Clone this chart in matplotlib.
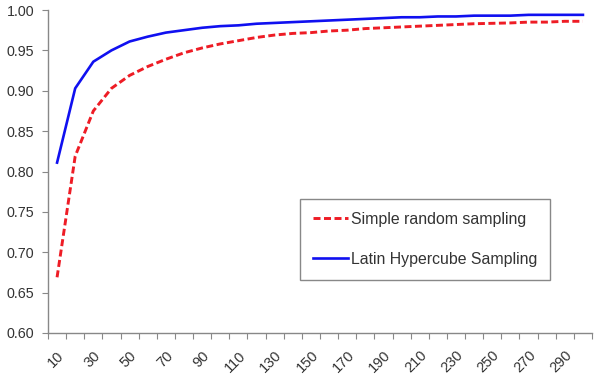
import numpy as np
import matplotlib
matplotlib.use('Agg')
import matplotlib.pyplot as plt

plt.rcParams['font.family'] = ['Liberation Sans', 'DejaVu Sans']

# 样本数量（类别轴）
sample_sizes = list(range(10, 301, 10))
# 两种抽样方法的结果
srs_values = [0.669, 0.819, 0.875, 0.903, 0.919, 0.930, 0.939, 0.947, 0.953, 0.958,
              0.962, 0.966, 0.969, 0.971, 0.972, 0.974, 0.975, 0.977, 0.978, 0.979,
              0.980, 0.981, 0.982, 0.983, 0.9835, 0.984, 0.985, 0.985, 0.986, 0.986]
lhs_values = [0.811, 0.903, 0.936, 0.950, 0.961, 0.967, 0.972, 0.975, 0.978, 0.980,
              0.981, 0.983, 0.984, 0.985, 0.986, 0.987, 0.988, 0.989, 0.990, 0.991,
              0.991, 0.992, 0.992, 0.993, 0.993, 0.993, 0.994, 0.994, 0.994, 0.994]
y_ticks = [0.60, 0.65, 0.70, 0.75, 0.80, 0.85, 0.90, 0.95, 1.00]

fig = plt.figure(figsize=(5.94, 3.74), dpi=100)
ax = fig.add_axes([48 / 594, 1 - 333 / 374, 544 / 594, 323 / 374])

pos = np.arange(len(sample_sizes))
ax.plot(pos, srs_values, color='#ee1c25', lw=2.1, dashes=(2.4, 1.2),
        label='Simple random sampling')
ax.plot(pos, lhs_values, color='#1010f0', lw=1.9, label='Latin Hypercube Sampling')

ax.set_xlim(-0.5, len(sample_sizes) - 0.5)
ax.set_ylim(0.60, 1.00)

# 刻度线在类别之间，标签在类别中心，隔一个显示
ax.set_xticks(np.arange(-0.5, len(sample_sizes)), minor=False)
ax.set_xticklabels([])
ax.set_xticks(pos[::2], minor=True)
ax.set_xticklabels([str(s) for s in sample_sizes[::2]], minor=True,
                   rotation=45, ha='right', va='top', rotation_mode='anchor')
ax.tick_params(axis='x', which='major', length=4, color='#888888', direction='out')
ax.tick_params(axis='x', which='minor', length=0, pad=11, labelsize=10.5, labelcolor='#333333')

ax.set_yticks(y_ticks)
ax.set_yticklabels(['%.2f' % v for v in y_ticks])
ax.tick_params(axis='y', length=4, color='#888888', labelsize=10.3, labelcolor='#333333', pad=6)

for side in ['top', 'right']:
    ax.spines[side].set_visible(False)
for side in ['left', 'bottom']:
    ax.spines[side].set_color('#888888')
    ax.spines[side].set_linewidth(1.0)

leg = fig.legend(loc='upper left', bbox_to_anchor=(300 / 594, 1 - 199 / 374),
                 borderaxespad=0, fontsize=11.4, labelspacing=1.6, handlelength=2.2,
                 handletextpad=0.2, borderpad=0.8, fancybox=False, framealpha=1)
leg.get_frame().set_edgecolor('#888888')
leg.get_frame().set_linewidth(1.0)
for t in leg.get_texts():
    t.set_color('#333333')

fig.savefig('out.png', dpi=100)
